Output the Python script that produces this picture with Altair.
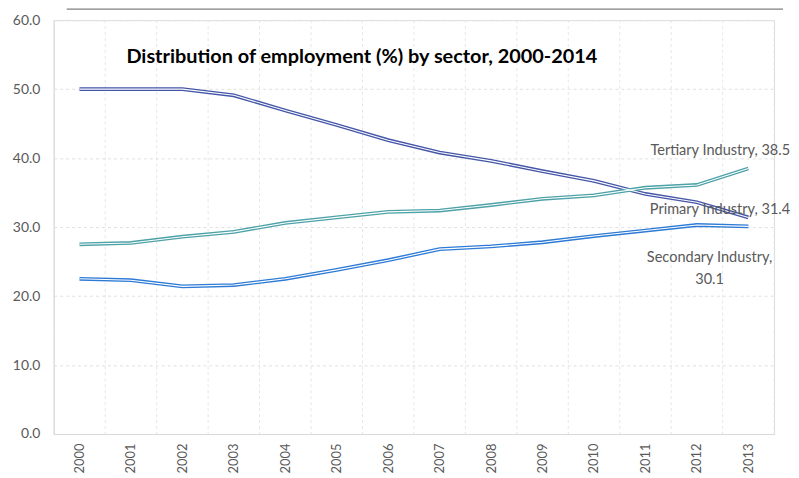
import altair as alt
import pandas as pd

years = list(range(2000, 2014))
primary = [50.0, 50.0, 50.0, 49.1, 46.9, 44.8, 42.6, 40.8, 39.6, 38.1, 36.7, 34.8, 33.6, 31.4]
secondary = [22.5, 22.3, 21.4, 21.6, 22.5, 23.8, 25.2, 26.8, 27.2, 27.8, 28.7, 29.5, 30.3, 30.1]
tertiary = [27.5, 27.7, 28.6, 29.3, 30.6, 31.4, 32.2, 32.4, 33.2, 34.1, 34.6, 35.7, 36.1, 38.5]
series_names = ["Primary Industry", "Secondary Industry", "Tertiary Industry"]
series_colors = ["#4456a8", "#2e7bd6", "#4da2a8"]
title_text = "Distribution of employment (%) by sector, 2000-2014"

rows = []
for name, vals in zip(series_names, [primary, secondary, tertiary]):
    for y, v in zip(years, vals):
        rows.append({"year": y, "value": v, "series": name})
df = pd.DataFrame(rows)

boundaries = pd.DataFrame({"b": [y - 0.5 for y in years] + [years[-1] + 0.5]})

FONT = "Lato"
LABEL_COLOR = "#595959"

xscale = alt.Scale(domain=[years[0] - 0.5, years[-1] + 0.5], nice=False, zero=False)
yscale = alt.Scale(domain=[0, 60], nice=False)

xaxis = alt.Axis(values=years, format="d", labelAngle=-90, grid=False, ticks=False,
                 domain=True, domainColor="#d9d9d9", domainWidth=1, title=None,
                 labelFont=FONT, labelFontSize=13, labelColor=LABEL_COLOR, labelPadding=9)
yaxis = alt.Axis(values=[0, 10, 20, 30, 40, 50, 60], format=".1f", grid=True,
                 gridDash=[3, 3], gridColor="#e0e0e0", ticks=False, domain=True,
                 domainColor="#d9d9d9", title=None, labelFont=FONT, labelFontSize=14,
                 labelColor=LABEL_COLOR, labelPadding=14)

color = alt.Color("series:N", scale=alt.Scale(domain=series_names, range=series_colors), legend=None)

vgrid = alt.Chart(boundaries).mark_rule(color="#e6e6e6", strokeDash=[3, 3], strokeWidth=1).encode(
    x=alt.X("b:Q", scale=xscale, axis=xaxis),
)

base = alt.Chart(df).encode(
    x=alt.X("year:Q", scale=xscale, axis=xaxis),
    y=alt.Y("value:Q", scale=yscale, axis=yaxis),
    detail="series:N",
)
outer = base.mark_line(strokeWidth=3.8).encode(color=color)
inner = base.mark_line(strokeWidth=1.1, color="white")

last = df[df["year"] == years[-1]]

def label(name, text, dx, dy, align):
    d = last[last["series"] == name].copy()
    d["label"] = text
    return alt.Chart(d).mark_text(align=align, baseline="middle", font=FONT, fontSize=14.6,
                                  color=LABEL_COLOR, dx=dx, dy=dy).encode(
        x=alt.X("year:Q", scale=xscale), y=alt.Y("value:Q", scale=yscale), text="label:N")

lab_t = label("Tertiary Industry", "Tertiary Industry, 38.5", 42, -18, "right")
lab_p = label("Primary Industry", "Primary Industry, 31.4", 42, -7, "right")
lab_s1 = label("Secondary Industry", "Secondary Industry,", -39, 32, "center")
lab_s2 = label("Secondary Industry", "30.1", -39, 54, "center")

title = alt.Chart(pd.DataFrame({"t": [title_text]})).mark_text(
    align="left", baseline="middle", font=FONT, fontSize=20, fontWeight="bold", color="#000000"
).encode(x=alt.value(73), y=alt.value(37), text="t:N")

topline = alt.Chart(pd.DataFrame({"a": [0]})).mark_rule(color="#808080", strokeWidth=1.3).encode(
    x=alt.value(13), x2=alt.value(733), y=alt.value(-11))

chart = alt.layer(vgrid, outer, inner, lab_t, lab_p, lab_s1, lab_s2, title, topline).properties(
    width=724, height=416,
    autosize=alt.AutoSizeParams(type="none"),
    padding={"left": 46, "top": 11, "right": 17, "bottom": 40},
).configure_view(stroke=None).configure(background="white")

chart.save("out.html", embed_options={"renderer": "svg", "actions": False})
